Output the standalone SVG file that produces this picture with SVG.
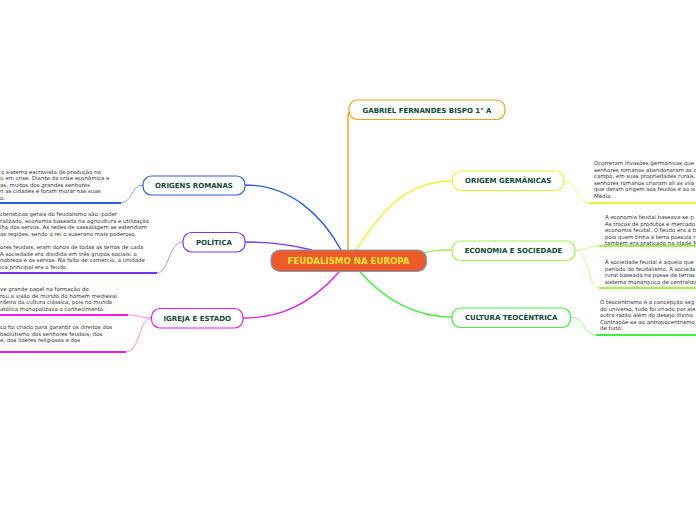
<svg xmlns="http://www.w3.org/2000/svg" width="696" height="520" viewBox="0 0 696 520">
<style>
.node{fill:#fff;stroke-width:1.2}
.lbl{font-family:"DejaVu Sans",Verdana,sans-serif;font-weight:bold;font-size:7px;fill:#0f4a36;text-anchor:middle}
.txt{font-family:"DejaVu Sans",Verdana,sans-serif;font-size:5.45px;fill:#333}
.c{fill:none;stroke-width:1.4}
.b{fill:none;stroke-width:0.9}
.u{fill:none;stroke-width:2}
</style>
<rect width="696" height="520" fill="#fff"/>
<g id="connectors">
<path class="c" stroke="#f5a11c" d="M348,250 L348,118 Q348,111 352,110"/>
<path class="c" stroke="#2b5ce6" d="M245,185 C290,185 322,215 341,250"/>
<path class="c" stroke="#7a35f0" d="M245,242 C275,242 293,245 312,250"/>
<path class="c" stroke="#f0f03a" d="M356,250 C385,205 410,181 453,181"/>
<path class="c" stroke="#a4f050" d="M423,253 C435,250 440,250 452,250"/>
<path class="c" stroke="#e81ee8" d="M339,272 C310,305 280,318 243,318"/>
<path class="c" stroke="#3cf03c" d="M360,272 C385,300 415,317 452,317"/>
<path class="b" stroke="#7a9cf0" d="M143,185 C131,185 133,203 120,203"/>
<path class="u" stroke="#2b5ce6" d="M121,203 L0,203"/>
<path class="b" stroke="#b08af5" d="M183,242 C168,242 170,273 156,273"/>
<path class="u" stroke="#7a35f0" d="M157,273 L0,273"/>
<path class="b" stroke="#f080f0" d="M152,318 C140,318 140,315 127,315"/>
<path class="u" stroke="#e81ee8" d="M128,315 L0,315"/>
<path class="b" stroke="#f080f0" d="M152,318 C138,318 141,352 125,352"/>
<path class="u" stroke="#e81ee8" d="M126,352 L0,352"/>
<path class="b" stroke="#f4f470" d="M564,181 C578,181 575,203 590,203"/>
<path class="u" stroke="#f0f03a" d="M589,203 L696,203"/>
<path class="b" stroke="#c4f590" d="M575,250 C588,250 588,246 600,246"/>
<path class="u" stroke="#a4f050" d="M599,246 L696,246"/>
<path class="b" stroke="#c4f590" d="M575,250 C590,250 586,288 600,288"/>
<path class="u" stroke="#a4f050" d="M599,288 L696,288"/>
<path class="b" stroke="#90f590" d="M571,317 C585,317 582,335 597,335"/>
<path class="u" stroke="#3cf03c" d="M596,335 L696,335"/>
</g>
<g id="center">
<rect x="271" y="250" width="155.5" height="21.5" rx="9" fill="#ec5b28" stroke="#6aa0d6" stroke-width="1.2"/>
<text x="348.5" y="264.2" class="lbl" style="font-size:8.6px;fill:#ffe23a">FEUDALISMO NA EUROPA</text>
</g>
<g id="gabriel">
<rect class="node" x="349" y="100" width="156" height="19.5" rx="8.5" stroke="#f5a11c"/>
<text x="427" y="112.5" class="lbl">GABRIEL FERNANDES BISPO 1° A</text>
</g>
<g id="origens-romanas">
<rect class="node" x="143" y="176" width="102" height="19" rx="8.5" stroke="#2b5ce6"/>
<text x="194" y="188" class="lbl">ORIGENS ROMANAS</text>
<text class="txt"><tspan x="1" y="173.5">o sistema escravista de produção no</tspan><tspan x="0" y="180">u em crise. Diante da crise econômica e</tspan><tspan x="0" y="186.5">as, muitos dos grandes senhores</tspan><tspan x="0" y="193">n as cidades e foram morar nas suas</tspan><tspan x="0" y="199.5">o.</tspan></text>
</g>
<g id="politica">
<rect class="node" x="183" y="232.5" width="62" height="19.5" rx="8.5" stroke="#7a35f0"/>
<text x="214" y="244.8" class="lbl">POLÍTICA</text>
<text class="txt"><tspan x="0" y="216">cterísticas gerais do feudalismo são: poder</tspan><tspan x="0" y="222.5">ralizado, economia baseada na agricultura e utilização</tspan><tspan x="0" y="229">lho dos servos. As redes de vassalagem se estendiam</tspan><tspan x="0" y="235.5">as regiões, sendo o rei o suserano mais poderoso.</tspan></text>
<text class="txt"><tspan x="0" y="249">ores feudais, eram donos de todas as terras de cada</tspan><tspan x="0" y="255.5">A sociedade era dividida em três grupos sociais: o</tspan><tspan x="0" y="262">nobreza e os servos. Na falta de comércio, a unidade</tspan><tspan x="0" y="268.5">ica principal era o feudo.</tspan></text>
</g>
<g id="igreja-estado">
<rect class="node" x="151.5" y="308.5" width="91.5" height="19.5" rx="8.5" stroke="#e81ee8"/>
<text x="197.2" y="320.8" class="lbl">IGREJA E ESTADO</text>
<text class="txt"><tspan x="0" y="291">ve grande papel na formação do</tspan><tspan x="0" y="297.5">rou a visão de mundo do homem medieval.</tspan><tspan x="0" y="304">rdeira da cultura clássica, pois no mundo</tspan><tspan x="0" y="310.5">atólica monopolizava o conhecimento.</tspan></text>
<text class="txt"><tspan x="0" y="329">co foi criado para garantir os direitos dos</tspan><tspan x="0" y="335.5">bsolutismo dos senhores feudais, dos</tspan><tspan x="0" y="342">é, dos líderes religiosos e dos</tspan></text>
</g>
<g id="origem-germanicas">
<rect class="node" x="452.5" y="171" width="111.5" height="19.5" rx="8.5" stroke="#f0f03a"/>
<text x="508.2" y="183.3" class="lbl">ORIGEM GERMÂNICAS</text>
<text class="txt"><tspan x="594" y="165">Ocorreram invasões germânicas que</tspan><tspan x="594" y="171.5">senhores romanos abandonaram as c</tspan><tspan x="594" y="178">campo, em suas propriedades rurais.</tspan><tspan x="594" y="184.5">senhores romanos criaram ali as vila</tspan><tspan x="594" y="191">que deram origem aos feudos e ao si</tspan><tspan x="594" y="197.5">Média.</tspan></text>
</g>
<g id="economia-sociedade">
<rect class="node" x="452" y="241" width="123" height="19.5" rx="8.5" stroke="#a4f050"/>
<text x="513.5" y="253.3" class="lbl">ECONOMIA E SOCIEDADE</text>
<text class="txt"><tspan x="605" y="219">A economia feudal baseava-se p</tspan><tspan x="605" y="225.5">As trocas de produtos e mercado</tspan><tspan x="605" y="232">economia feudal. O feudo era a b</tspan><tspan x="605" y="238.5">pois quem tinha a terra possuía r</tspan><tspan x="605" y="245">também era praticado na Idade M</tspan></text>
<text class="txt"><tspan x="605" y="264">A sociedade feudal é aquela que</tspan><tspan x="605" y="270.5">período do feudalismo. A socieda</tspan><tspan x="605" y="277">rural baseada na posse de terras</tspan><tspan x="605" y="283.5">sistema monárquico de centraliza</tspan></text>
</g>
<g id="cultura-teocentrica">
<rect class="node" x="452" y="308" width="118.5" height="19.5" rx="8.5" stroke="#3cf03c"/>
<text x="511.2" y="320.3" class="lbl">CULTURA TEOCÊNTRICA</text>
<text class="txt"><tspan x="600" y="304">O teocentrismo é a concepção seg</tspan><tspan x="600" y="310.5">do universo, tudo foi criado por ele</tspan><tspan x="600" y="317">outra razão além do desejo divino</tspan><tspan x="600" y="323.5">Contrapõe-se ao antropocentrismo</tspan><tspan x="600" y="330">de tudo.</tspan></text>
</g>
</svg>
